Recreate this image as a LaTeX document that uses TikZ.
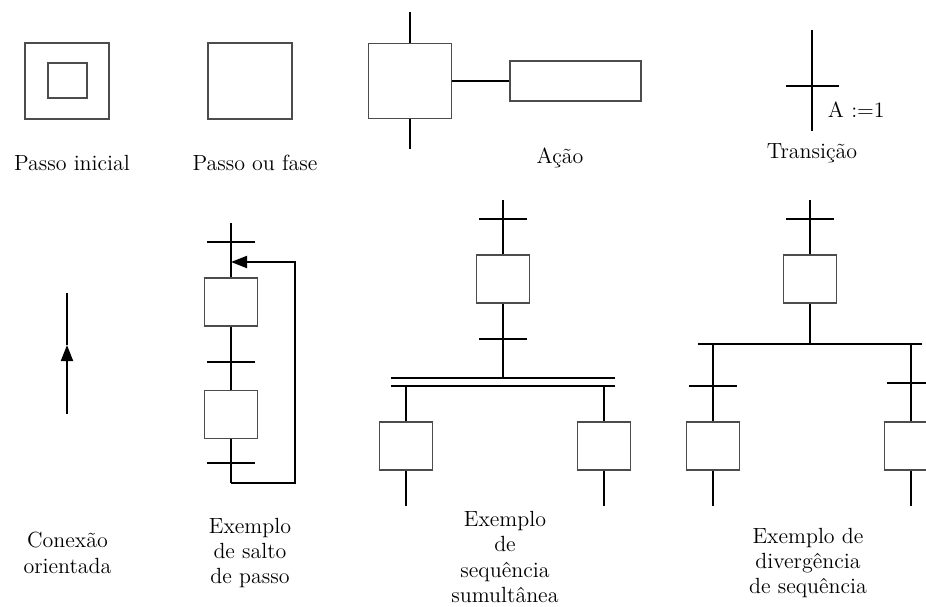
\documentclass[tikz,border=0pt]{standalone}
\usepackage{fontspec}
\usetikzlibrary{arrows.meta,positioning}
\definecolor{cinza}{gray}{0.3}
\tikzset{
    every picture/.style={line width=1.1pt},
    passo/.style={draw=cinza, line width=1pt, minimum width=1.06cm, minimum height=0.96cm, inner sep=0pt},
    trans/.style={minimum width=0.92cm, minimum height=0pt, inner sep=0pt},
    rotulo/.style={align=center, inner sep=0pt, font=\fontsize{12.5}{14.5}\selectfont},
    seta/.style={-{Triangle[length=0.32cm, width=0.24cm]}},
}

\begin{document}
\begin{tikzpicture}[x=0.02cm, y=-0.02cm]
    \clip (0,0) rectangle (926,606);
    \node[passo, minimum width=1.68cm, minimum height=1.52cm] (pi) at (67,81) {};
    \node[passo, minimum width=0.78cm, minimum height=0.70cm] (pii) at (67.5,80.5) {};
    \node[rotulo] (lpi) at (72,163) {Passo inicial};
    \node[passo, minimum width=1.68cm, minimum height=1.52cm] (pf) at (250,81) {};
    \node[rotulo] (lpf) at (255,163) {Passo ou fase};
    \node[passo, minimum width=1.66cm, minimum height=1.50cm] (pa) at (410,81) {};
    \node[passo, minimum width=2.62cm, minimum height=0.80cm] (acao) at (575.5,81) {};
    \coordinate (pa1) at (410,12);
    \coordinate (pa2) at (410,149);
    \node[rotulo] (lacao) at (560,158) {Ação};
    \draw (pa1) -- (pa) -- (pa2);
    \draw (pa.east) -- (acao.west);
    \coordinate (tt1) at (812,30);
    \coordinate (tt2) at (812,131);
    \node[trans, minimum width=1.02cm] (tt) at (812.5,86) {};
    \node[rotulo, anchor=west] (cond) at (827,110) {A :=1};
    \node[rotulo] (ltt) at (812,153) {Transição};
    \draw (tt1) -- (tt2);
    \coordinate (c1) at (67,414);
    \coordinate (cm) at (67,345);
    \coordinate (c2) at (67,293);
    \draw[seta] (c1) -- (cm);
    \draw (cm) -- (c2);
    \node[rotulo] (lc) at (67.5,553) {Conexão\\orientada};
    \coordinate (s0) at (231,223);
    \node[trans] (ts1) at (231,242) {};
    \coordinate (ret) at (231,262);
    \node[passo] (s1) at (231,302) {};
    \node[trans] (ts2) at (231,362) {};
    \node[passo] (s2) at (231,414.5) {};
    \node[trans] (ts3) at (231,463) {};
    \coordinate (sb) at (231,483);
    \coordinate (sr) at (295,262);
    \draw (s0) -- (ts1) -- (s1) -- (ts2) -- (s2) -- (ts3) -- (sb);
    \draw[seta] (sb) -| (sr) -- (ret);
    \node[rotulo] (ls) at (250,553) {Exemplo\\de salto\\de passo};
    \coordinate (a0) at (503,200);
    \node[trans] (ta1) at (503,219) {};
    \node[passo] (b1) at (503,279) {};
    \node[trans] (ta2) at (503,339) {};
    \coordinate (ja) at (503,378);
    \coordinate (bar1l) at (391,378);
    \coordinate (bar1r) at (615,378);
    \coordinate (bar2l) at (391,386);
    \coordinate (bar2r) at (615,386);
    \coordinate (jl) at (406,386);
    \coordinate (jr) at (604,386);
    \node[passo] (bl) at (406,446) {};
    \node[passo] (br) at (604,446) {};
    \coordinate (el) at (406,506);
    \coordinate (er) at (604,506);
    \draw (a0) -- (ta1) -- (b1) -- (ta2) -- (ja);
    \draw (bar1l) -- (bar1r);
    \draw (bar2l) -- (bar2r);
    \draw (jl) -- (bl) -- (el);
    \draw (jr) -- (br) -- (er);
    \node[rotulo] (la) at (505,557) {Exemplo\\de\\sequência\\sumultânea};
    \coordinate (d0) at (810,200);
    \node[trans] (td1) at (810,219) {};
    \node[passo] (d1) at (810,279) {};
    \coordinate (jd) at (810,344);
    \coordinate (hl) at (698,344);
    \coordinate (hr) at (922,344);
    \coordinate (kl) at (713,344);
    \coordinate (kr) at (911,344);
    \node[trans] (tdl) at (713,386) {};
    \node[trans] (tdr) at (911,383) {};
    \node[passo] (dl) at (713,446) {};
    \node[passo] (dr) at (911,446) {};
    \coordinate (fl) at (713,506);
    \coordinate (fr) at (911,506);
    \draw (d0) -- (td1) -- (d1) -- (jd);
    \draw (hl) -- (hr);
    \draw (kl) -- (tdl) -- (dl) -- (fl);
    \draw (kr) -- (tdr) -- (dr) -- (fr);
    \node[rotulo] (ld) at (808,563) {Exemplo de\\divergência\\de sequência};
    \foreach \t in {tt,ts1,ts2,ts3,ta1,ta2,td1,tdl,tdr}
        \draw (\t.west) -- (\t.east);
\end{tikzpicture}
\end{document}
